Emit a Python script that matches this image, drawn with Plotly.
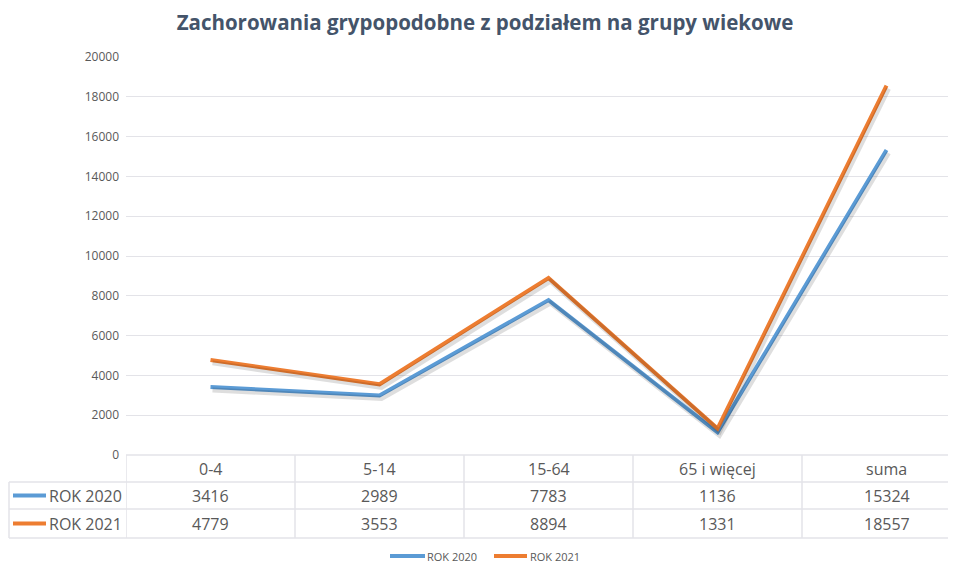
import plotly.graph_objects as go

categories = ["0-4", "5-14", "15-64", "65 i więcej", "suma"]
series_names = ["ROK 2020", "ROK 2021"]
rok_2020 = [3416, 2989, 7783, 1136, 15324]
rok_2021 = [4779, 3553, 8894, 1331, 18557]
y_ticks = [0, 2000, 4000, 6000, 8000, 10000, 12000, 14000, 16000, 18000, 20000]

colors = ["#5B9BD5", "#ED7D31"]
series = [rok_2020, rok_2021]
FONT = "Open Sans"
TXT = "#595959"
GRID = "#E3E3E8"

# page body has an 8px margin; work in screen pixels and convert
OFF = 8
W, H = 956 - OFF, 564 - OFF
L, R = 126 - OFF, 0
T = 57 - OFF
B = H - (455 - OFF)
plot_w = W - L - R
plot_h = H - T - B
col_px = 169.0
x_right = -0.5 + plot_w / col_px
Y_MAX = 20000


def py(p):
    # screen pixel y -> paper y
    return (H - B - (p - OFF)) / plot_h


def px(p):
    # screen pixel x -> paper x
    return (p - OFF - L) / plot_w


fig = go.Figure()
xs = list(range(len(categories)))

# soft shadows on a shifted overlay axis (2px right, 3px down)
for vals in series:
    fig.add_trace(go.Scatter(x=xs, y=vals, mode="lines", xaxis="x2", yaxis="y2",
                             line=dict(color="rgba(0,0,0,0.13)", width=5),
                             hoverinfo="skip", showlegend=False))
for name, vals, c in zip(series_names, series, colors):
    fig.add_trace(go.Scatter(x=xs, y=vals, mode="lines", name=name,
                             line=dict(color=c, width=4), showlegend=False))

shapes = []
annotations = []
# table horizontal lines
shapes.append(dict(type="line", xref="paper", yref="paper", x0=0, x1=1.05,
                   y0=py(455), y1=py(455), line=dict(color=GRID, width=1.5)))
for yy in [482, 509, 538]:
    shapes.append(dict(type="line", xref="paper", yref="paper", x0=px(9), x1=1.05,
                       y0=py(yy), y1=py(yy), line=dict(color=GRID, width=1.5)))
# vertical lines
shapes.append(dict(type="line", xref="paper", yref="paper", x0=px(9), x1=px(9),
                   y0=py(482), y1=py(538), line=dict(color=GRID, width=1.5)))
for i in range(len(categories)):
    shapes.append(dict(type="line", xref="x", yref="paper", x0=i - 0.5, x1=i - 0.5,
                       y0=py(455), y1=py(538), line=dict(color=GRID, width=1.5)))

# category row
for i, cat in enumerate(categories):
    annotations.append(dict(x=i, y=py(468.5), xref="x", yref="paper", text=cat,
                            showarrow=False, font=dict(family=FONT, size=16, color=TXT),
                            xanchor="center", yanchor="middle"))
# series rows
row_y = [495.5, 523.5]
for name, vals, c, ry in zip(series_names, series, colors, row_y):
    shapes.append(dict(type="line", xref="paper", yref="paper", x0=px(13), x1=px(46),
                       y0=py(ry), y1=py(ry), line=dict(color=c, width=4)))
    annotations.append(dict(x=px(47), y=py(ry), xref="paper", yref="paper", text=name,
                            showarrow=False, font=dict(family=FONT, size=16, color=TXT),
                            xanchor="left", yanchor="middle"))
    for i, v in enumerate(vals):
        annotations.append(dict(x=i, y=py(ry), xref="x", yref="paper", text=str(v),
                                showarrow=False, font=dict(family=FONT, size=16, color=TXT),
                                xanchor="center", yanchor="middle"))

# bottom legend (manual)
legend_items = [(390, 425, 426), (494, 527, 529)]
LEG_Y = 556
for (x0, x1, xt), name, c in zip(legend_items, series_names, colors):
    shapes.append(dict(type="line", xref="paper", yref="paper", x0=px(x0), x1=px(x1),
                       y0=py(LEG_Y), y1=py(LEG_Y), line=dict(color=c, width=4)))
    annotations.append(dict(x=px(xt), y=py(LEG_Y), xref="paper", yref="paper", text=name,
                            showarrow=False, font=dict(family=FONT, size=11, color=TXT),
                            xanchor="left", yanchor="middle", borderpad=0))

dx = 2 / col_px
dy = 3 * Y_MAX / plot_h
fig.update_layout(
    width=W, height=H,
    margin=dict(l=L, r=R, t=T, b=B, autoexpand=False),
    paper_bgcolor="white", plot_bgcolor="white",
    title=dict(text="<b>Zachorowania grypopodobne z podziałem na grupy wiekowe</b>",
               x=(485 - OFF) / W, xanchor="center", y=1 - (23 - OFF) / H, yanchor="middle",
               font=dict(family=FONT, size=20.5, color="#44546A")),
    xaxis=dict(range=[-0.5, x_right], showticklabels=False, showgrid=False,
               zeroline=False, showline=False, fixedrange=True),
    yaxis=dict(range=[0, Y_MAX], tickvals=y_ticks, ticktext=[str(t) for t in y_ticks],
               showgrid=True, gridcolor=GRID, gridwidth=1, zeroline=False,
               tickfont=dict(family=FONT, size=12, color=TXT), ticklabelstandoff=6),
    xaxis2=dict(range=[-0.5 - dx, x_right - dx], overlaying="x", visible=False),
    yaxis2=dict(range=[dy, Y_MAX + dy], overlaying="y", visible=False),
    shapes=shapes, annotations=annotations,
    showlegend=False,
)

fig.write_html("out.html")
